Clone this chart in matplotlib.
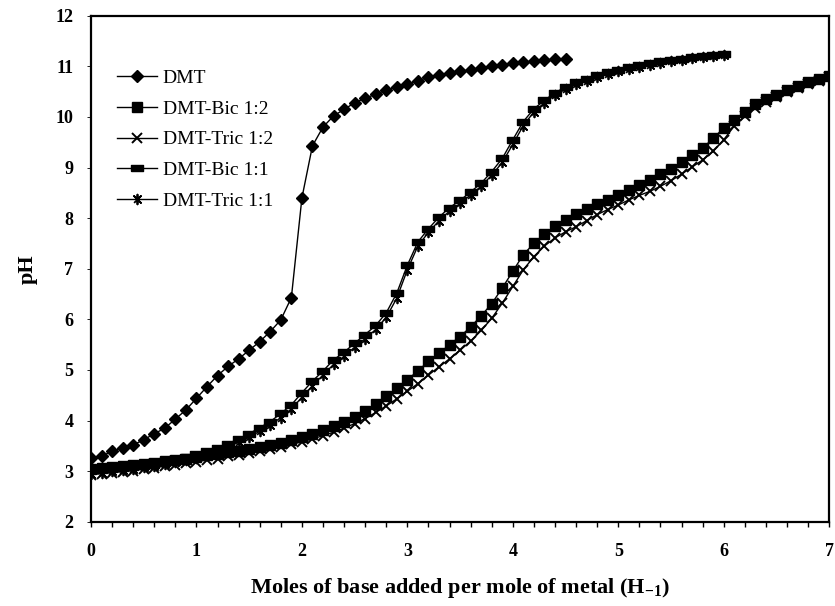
import numpy as np
import matplotlib
matplotlib.use("Agg")
import matplotlib.pyplot as plt
from matplotlib.ticker import MultipleLocator

plt.rcParams['font.family'] = ['Liberation Serif', 'DejaVu Serif']
plt.rcParams['mathtext.fontset'] = 'custom'
plt.rcParams['mathtext.rm'] = 'Liberation Serif:bold'

# ---- data ----
x_dmt = np.round(np.arange(0, 4.51, 0.1), 2)
ph_dmt = [3.26, 3.30, 3.39, 3.46, 3.52, 3.62, 3.74, 3.85, 4.03, 4.21,
          4.44, 4.67, 4.89, 5.07, 5.22, 5.39, 5.56, 5.76, 5.99, 6.43,
          8.40, 9.43, 9.80, 10.02, 10.15, 10.28, 10.37, 10.45, 10.53, 10.59,
          10.65, 10.72, 10.78, 10.83, 10.87, 10.90, 10.93, 10.96, 11.00, 11.03,
          11.06, 11.08, 11.10, 11.12, 11.14, 11.15]

x_12 = np.round(np.arange(0, 7.01, 0.1), 2)
ph_bic_12 = [3.05, 3.07, 3.09, 3.11, 3.13, 3.15, 3.17, 3.20, 3.22, 3.25,
             3.28, 3.31, 3.34, 3.37, 3.40, 3.44, 3.48, 3.52, 3.56, 3.61,
             3.68, 3.74, 3.81, 3.89, 3.98, 4.08, 4.19, 4.32, 4.48, 4.64,
             4.81, 4.98, 5.17, 5.33, 5.50, 5.66, 5.85, 6.07, 6.31, 6.62,
             6.95, 7.28, 7.50, 7.68, 7.85, 7.97, 8.08, 8.19, 8.27, 8.35,
             8.45, 8.55, 8.65, 8.76, 8.88, 8.98, 9.10, 9.24, 9.38, 9.58,
             9.78, 9.94, 10.10, 10.25, 10.35, 10.43, 10.53, 10.62, 10.70, 10.76,
             10.81]
ph_tric_12 = [2.93, 2.95, 2.97, 2.99, 3.01, 3.04, 3.07, 3.10, 3.13, 3.16,
              3.19, 3.22, 3.25, 3.29, 3.32, 3.36, 3.40, 3.44, 3.48, 3.53,
              3.58, 3.64, 3.70, 3.77, 3.85, 3.94, 4.04, 4.16, 4.29, 4.43,
              4.58, 4.73, 4.90, 5.06, 5.22, 5.39, 5.57, 5.78, 6.02, 6.32,
              6.65, 6.98, 7.24, 7.45, 7.61, 7.73, 7.83, 7.95, 8.07, 8.17,
              8.26, 8.36, 8.45, 8.53, 8.63, 8.74, 8.87, 9.01, 9.15, 9.32,
              9.55, 9.82, 10.02, 10.18, 10.30, 10.40, 10.49, 10.58, 10.66, 10.72,
              10.78]

x_11 = np.round(np.arange(0, 6.01, 0.1), 2)
ph_bic_11 = [3.05, 3.07, 3.09, 3.11, 3.13, 3.15, 3.18, 3.21, 3.24, 3.28,
             3.33, 3.39, 3.46, 3.54, 3.64, 3.74, 3.86, 3.98, 4.14, 4.31,
             4.55, 4.78, 4.98, 5.20, 5.35, 5.53, 5.70, 5.88, 6.13, 6.52,
             7.07, 7.53, 7.79, 8.02, 8.21, 8.35, 8.52, 8.69, 8.92, 9.18,
             9.55, 9.91, 10.16, 10.33, 10.48, 10.59, 10.69, 10.76, 10.82, 10.88,
             10.93, 10.98, 11.02, 11.06, 11.10, 11.13, 11.15, 11.18, 11.20, 11.22,
             11.24]
ph_tric_11 = [2.95, 2.97, 3.00, 3.02, 3.05, 3.08, 3.11, 3.14, 3.18, 3.22,
              3.27, 3.33, 3.40, 3.48, 3.57, 3.67, 3.79, 3.91, 4.06, 4.23,
              4.46, 4.69, 4.90, 5.11, 5.27, 5.45, 5.62, 5.80, 6.04, 6.42,
              6.98, 7.45, 7.72, 7.95, 8.14, 8.29, 8.46, 8.63, 8.85, 9.10,
              9.46, 9.83, 10.10, 10.28, 10.43, 10.55, 10.65, 10.72, 10.79, 10.85,
              10.90, 10.95, 10.99, 11.03, 11.07, 11.10, 11.13, 11.16, 11.18, 11.20,
              11.22]

labels = ["DMT", "DMT-Bic 1:2", "DMT-Tric 1:2", "DMT-Bic 1:1", "DMT-Tric 1:1"]
x_ticks = [0, 1, 2, 3, 4, 5, 6, 7]
y_ticks = [2, 3, 4, 5, 6, 7, 8, 9, 10, 11, 12]

# ---- figure ----
fig = plt.figure(figsize=(8.35, 6.06), dpi=100)
ax = fig.add_axes([0.109, 0.139, 0.884, 0.835])

bar_marker = [(-1, -0.45), (1, -0.45), (1, 0.45), (-1, 0.45), (-1, -0.45)]
ast_marker = [(-0.7, -0.7), (0.7, 0.7), (0, 0), (-0.7, 0.7), (0.7, -0.7), (0, 0),
              (0, 1), (0, -1), (0, 0)]

lw = 1.0
ax.plot(x_dmt, ph_dmt, color='black', lw=lw, marker='D', ms=6.5, mfc='black', mec='black', label=labels[0])
ax.plot(x_12, ph_bic_12, color='black', lw=lw, marker='s', ms=7.8, mfc='black', mec='black', label=labels[1])
ax.plot(x_12, ph_tric_12, color='black', lw=lw, marker='x', ms=7.0, mew=1.4, mec='black', label=labels[2])
ax.plot(x_11, ph_bic_11, color='black', lw=lw, marker=bar_marker, ms=8.5, mfc='black', mec='black', label=labels[3])
ax.plot(x_11, ph_tric_11, color='black', lw=lw, marker=ast_marker, ms=7.0, mew=1.3, mfc='none', mec='black', label=labels[4])

ax.set_xlim(0, 7)
ax.set_ylim(2, 12)
ax.set_xticks(x_ticks)
ax.set_yticks(y_ticks)
ax.xaxis.set_minor_locator(MultipleLocator(0.2))
ax.tick_params(axis='x', which='both', direction='out', length=3.6, width=1, pad=12,
               labelsize=13)
ax.tick_params(axis='y', which='both', direction='out', length=3, width=0.6, pad=9.7,
               labelsize=13)
for lab in ax.get_xticklabels() + ax.get_yticklabels():
    lab.set_fontweight('bold')
for sp in ax.spines.values():
    sp.set_linewidth(1.6)

ax.set_xlabel("Moles of base added per mole of metal (H$_{\\mathregular{-1}}$)",
              fontsize=16, fontweight='bold', labelpad=11)
ax.set_ylabel("pH", fontsize=16, fontweight='bold', labelpad=13)

leg = ax.legend(loc='upper left', bbox_to_anchor=(0.024, 0.91), frameon=False,
                fontsize=14, handlelength=2.1, handletextpad=0.28, labelspacing=0.68,
                borderaxespad=0)

fig.savefig("out.png", dpi=100)
